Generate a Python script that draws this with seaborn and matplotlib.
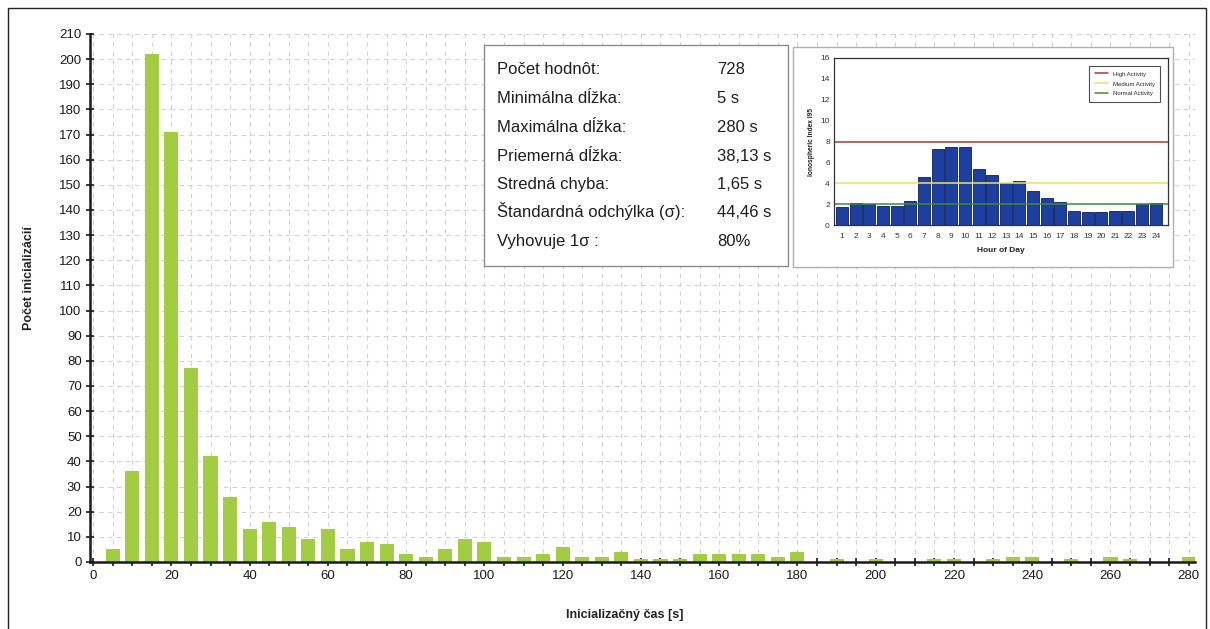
import matplotlib
matplotlib.use("Agg")
import matplotlib.pyplot as plt
from matplotlib.patches import Rectangle
from matplotlib.lines import Line2D
from matplotlib.ticker import MultipleLocator
import pandas as pd
import seaborn as sns

sns.set_theme(style="white")
plt.rcParams["font.family"] = ["Liberation Sans", "DejaVu Sans"]

# Histogram of initialization times (5 s bins)
init_times = list(range(5, 285, 5))
init_counts = [5, 36, 202, 171, 77, 42, 26, 13, 16, 14, 9, 13, 5, 8, 7, 3, 2, 5, 9, 8,
               2, 2, 3, 6, 2, 2, 4, 1, 1, 1, 3, 3, 3, 3, 2, 4, 0, 1, 0, 1,
               0, 0, 1, 1, 0, 1, 2, 2, 0, 1, 0, 2, 1, 0, 0, 2]

# Summary statistics
stat_labels = ["Počet hodnôt:", "Minimálna dĺžka:", "Maximálna dĺžka:",
               "Priemerná dĺžka:", "Stredná chyba:", "Štandardná odchýlka (σ):",
               "Vyhovuje 1σ :"]
stat_values = ["728", "5 s", "280 s", "38,13 s", "1,65 s", "44,46 s", "80%"]

# Ionospheric index by hour of day
hours = list(range(1, 25))
iono_index = [1.7, 2.1, 2.0, 1.8, 1.8, 2.3, 4.6, 7.3, 7.5, 7.5, 5.4, 4.8,
              4.0, 4.2, 3.3, 2.6, 2.2, 1.3, 1.2, 1.2, 1.3, 1.3, 2.0, 2.1]
activity_names = ["High Activity", "Medium Activity", "Normal Activity"]
activity_levels = [8, 4, 2]
activity_colors = ["#a83a3a", "#e6e36a", "#3f8a3f"]

W, H = 1210, 629
fig = plt.figure(figsize=(W / 100, H / 100), dpi=100)
fig.patch.set_facecolor("white")

def fx(px):
    return px / W

def fy(py):
    return 1 - py / H

# ---- main histogram ----
ax = fig.add_axes([fx(90), fy(562), fx(1195) - fx(90), fy(34) - fy(562)])
df = pd.DataFrame({"cas": init_times, "pocet": init_counts})
sns.barplot(data=df, x="cas", y="pocet", native_scale=True, width=0.72,
            color="#a2cc42", saturation=1, linewidth=0, ax=ax)
ax.set_xlim(-0.8, 281.6)
ax.set_ylim(0, 210)
ax.xaxis.set_major_locator(MultipleLocator(20))
ax.xaxis.set_minor_locator(MultipleLocator(5))
ax.yaxis.set_major_locator(MultipleLocator(10))
ax.set_axisbelow(True)
ax.grid(axis="x", which="both", linestyle=(0, (4, 4)), color="#d2d2d2", linewidth=0.8)
ax.grid(axis="y", which="major", linestyle=(0, (4, 4)), color="#d2d2d2", linewidth=0.8)
for side in ("top", "right"):
    ax.spines[side].set_visible(False)
for side in ("left", "bottom"):
    ax.spines[side].set_color("#1a1a1a")
    ax.spines[side].set_linewidth(1.8)
ax.tick_params(axis="both", which="both", direction="inout", length=6, width=1.2,
               color="#1a1a1a", labelsize=9.5, labelcolor="#1a1a1a", pad=3,
               bottom=True, left=True)
ax.set_xlabel("Inicializačný čas [s]", fontsize=9, fontweight="bold", color="#222222")
ax.set_ylabel("Počet inicializácií", fontsize=9, fontweight="bold", color="#222222")
ax.xaxis.set_label_coords((625 - 90) / 1105, (562 - 609) / 528)
ax.yaxis.set_label_coords((35 - 90) / 1105, (562 - 278) / 528)

# ---- statistics box ----
fig.add_artist(Rectangle((fx(484), fy(266)), fx(788) - fx(484), fy(45) - fy(266),
                         transform=fig.transFigure, facecolor="white",
                         edgecolor="#8a8a8a", linewidth=1.0, zorder=2))
row_y = [68, 97, 126, 155, 183, 211, 240]
for yy, lab, val in zip(row_y, stat_labels, stat_values):
    fig.text(fx(497), fy(yy + 6), lab, fontsize=12, color="#1e1e1e", va="baseline",
             ha="left", zorder=3)
    fig.text(fx(717), fy(yy + 6), val, fontsize=12, color="#1e1e1e", va="baseline",
             ha="left", zorder=3)

# ---- inset: ionospheric index ----
fig.add_artist(Rectangle((fx(793), fy(267)), fx(1173) - fx(793), fy(47) - fy(267),
                         transform=fig.transFigure, facecolor="white",
                         edgecolor="#b0b0b0", linewidth=1.0, zorder=2))
axin = fig.add_axes([fx(834), fy(225), fx(1168) - fx(834), fy(58) - fy(225)])
axin.set_zorder(3)
dfi = pd.DataFrame({"hour": hours, "index": iono_index})
sns.barplot(data=dfi, x="hour", y="index", order=hours, width=0.88,
            color="#1d3f9f", saturation=1, edgecolor="#0c1d5c", linewidth=0.6,
            ax=axin)
for name, lvl, col in zip(activity_names, activity_levels, activity_colors):
    axin.axhline(lvl, color=col, linewidth=1.1, zorder=1, label=name)
axin.set_xlim(-0.6, 23.9)
axin.set_ylim(0, 16)
axin.yaxis.set_major_locator(MultipleLocator(2))
for side in axin.spines.values():
    side.set_color("#333333")
    side.set_linewidth(0.9)
axin.tick_params(axis="x", which="major", length=0, labelsize=6, pad=6,
                 labelcolor="#333333")
axin.tick_params(axis="y", which="major", length=0, labelsize=6, pad=3,
                 labelcolor="#333333")
axin.set_xlabel("Hour of Day", fontsize=6, fontweight="bold", color="#222222", labelpad=5)
axin.set_ylabel("Ionospheric Index I95", fontsize=4.8, fontweight="bold",
                color="#222222", labelpad=4)
handles = [Line2D([0], [0], color=c, lw=1.1) for c in activity_colors]
leg = axin.legend(handles, activity_names, loc="upper right", fontsize=4.3,
                  frameon=True, fancybox=False, handlelength=2.2,
                  borderpad=0.9, labelspacing=0.8, bbox_to_anchor=(0.985, 0.97))
leg.get_frame().set_edgecolor("#222222")
leg.get_frame().set_linewidth(0.8)

# ---- outer frame ----
fig.add_artist(Rectangle((fx(8), -0.05), fx(1206) - fx(8), fy(8) + 0.05,
                         transform=fig.transFigure, fill=False,
                         edgecolor="#222222", linewidth=1.0, zorder=4,
                         clip_on=False))

fig.savefig("out.png", dpi=100, facecolor="white")
